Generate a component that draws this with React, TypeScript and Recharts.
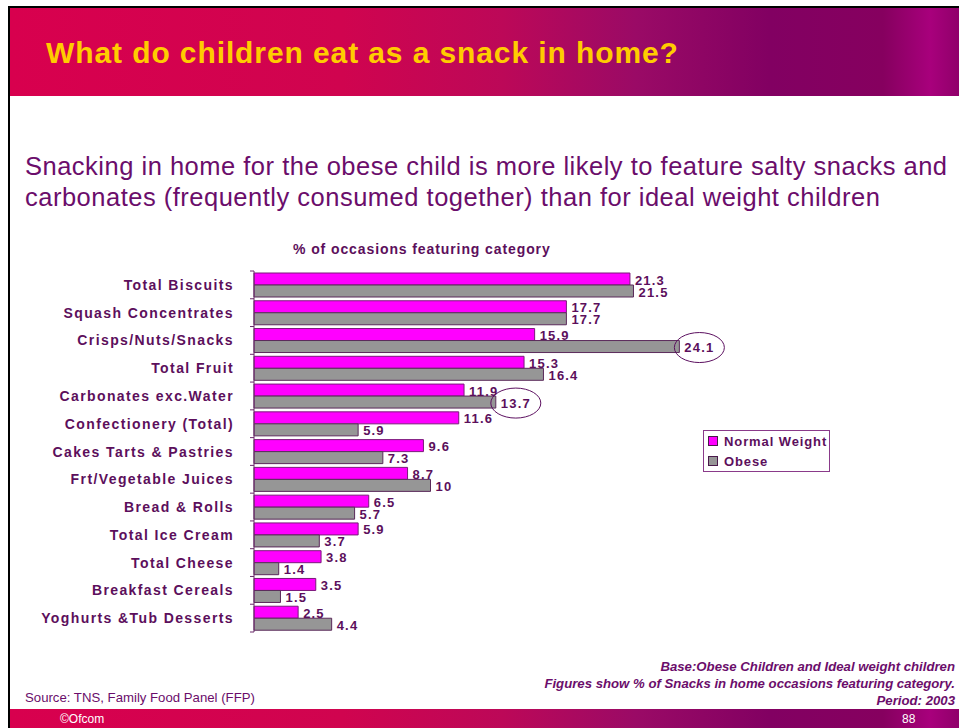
import { Bar, BarChart, LabelList, XAxis, YAxis } from 'recharts'

const categories = [
  'Total Biscuits',
  'Squash Concentrates',
  'Crisps/Nuts/Snacks',
  'Total Fruit',
  'Carbonates exc.Water',
  'Confectionery (Total)',
  'Cakes Tarts & Pastries',
  'Frt/Vegetable Juices',
  'Bread & Rolls',
  'Total Ice Cream',
  'Total Cheese',
  'Breakfast Cereals',
  'Yoghurts &Tub Desserts',
]
const normalWeight = [21.3, 17.7, 15.9, 15.3, 11.9, 11.6, 9.6, 8.7, 6.5, 5.9, 3.8, 3.5, 2.5]
const obese = [21.5, 17.7, 24.1, 16.4, 13.7, 5.9, 7.3, 10, 5.7, 3.7, 1.4, 1.5, 4.4]
// obese values circled on the slide
const circledObese = ['Crisps/Nuts/Snacks', 'Carbonates exc.Water']
const seriesNames = ['Normal Weight', 'Obese']
const seriesColors = ['#ff00ff', '#969696']

const data = categories.map((name, i) => ({
  name,
  normal: normalWeight[i],
  obese: obese[i],
}))

const PURPLE = '#5c0f5c'
const FONT = 'Arial, "Liberation Sans", Helvetica, sans-serif'
const PLOT_TOP = 271
const PLOT_BOTTOM = 632
const BAND = (PLOT_BOTTOM - PLOT_TOP) / categories.length

function CategoryTick(props: any) {
  const { x, y, payload, index } = props
  const half = BAND / 2
  return (
    <g>
      <line x1={x - 4} x2={x} y1={y - half} y2={y - half} stroke="#6b2a6b" />
      {index === categories.length - 1 && (
        <line x1={x - 4} x2={x} y1={y + half} y2={y + half} stroke="#6b2a6b" />
      )}
      <text
        x={x - 20}
        y={y}
        textAnchor="end"
        dominantBaseline="central"
        fill={PURPLE}
        fontFamily={FONT}
        fontWeight="bold"
        fontSize={14}
        letterSpacing={1.4}
      >
        {payload.value}
      </text>
    </g>
  )
}

function valueLabel(circled: string[]) {
  return (props: any) => {
    const { x, y, width, height, value, index } = props
    const tx = x + width + 5
    const ty = y + height / 2 + 1
    return (
      <g>
        <text
          x={tx}
          y={ty}
          dominantBaseline="central"
          fill={PURPLE}
          fontFamily={FONT}
          fontWeight="bold"
          fontSize={13}
          letterSpacing={1.2}
        >
          {value}
        </text>
        {circled.includes(categories[index]) && (
          <ellipse cx={tx + 15} cy={ty} rx={25} ry={15} fill="none" stroke="#5c1060" strokeWidth={1} />
        )}
      </g>
    )
  }
}

function LegendBox() {
  return (
    <div
      style={{
        position: 'absolute',
        left: 703,
        top: 430,
        width: 125,
        height: 40,
        border: '1px solid #8a3a8a',
        background: '#fff',
        fontWeight: 'bold',
        fontSize: 13,
        letterSpacing: 0.9,
        color: PURPLE,
      }}
    >
      {seriesNames.map((label, i) => (
        <div key={label} style={{ display: 'flex', alignItems: 'center', height: 20, paddingLeft: 4 }}>
          <span
            style={{
              display: 'inline-block',
              width: 8,
              height: 8,
              background: seriesColors[i],
              border: '1px solid #4a1a4a',
              marginRight: 6,
            }}
          />
          {label}
        </div>
      ))}
    </div>
  )
}

const band = 'linear-gradient(90deg, #d8004e 0%, #d0044f 35%, #bc0858 52%, #9a0a66 66%, #820062 80%, #86005f 92%, #a8007c 97%, #90006a 100%)'

export default function App() {
  return (
    <div
      style={{
        position: 'absolute',
        left: 0,
        top: 0,
        width: 959,
        height: 728,
        overflow: 'hidden',
        background: '#fff',
        fontFamily: FONT,
      }}
    >
      {/* slide frame */}
      <div style={{ position: 'absolute', left: 8, top: 6, width: 951, height: 2, background: '#000' }} />
      <div style={{ position: 'absolute', left: 8, top: 6, width: 2, height: 722, background: '#000' }} />
      <div style={{ position: 'absolute', left: 10, top: 8, width: 949, height: 88, background: band }} />
      <div
        style={{
          position: 'absolute',
          left: 46,
          top: 38,
          fontSize: 30,
          lineHeight: '30px',
          fontWeight: 'bold',
          color: '#ffcc00',
          letterSpacing: 0.9,
          whiteSpace: 'nowrap',
        }}
      >
        What do children eat as a snack in home?
      </div>
      <div
        style={{
          position: 'absolute',
          left: 25,
          top: 151,
          fontSize: 25.5,
          lineHeight: '31px',
          letterSpacing: 0.5,
          color: '#6b0d6b',
          whiteSpace: 'nowrap',
        }}
      >
        Snacking in home for the obese child is more likely to feature salty snacks and
        <br />
        carbonates (frequently consumed together) than for ideal weight children
      </div>
      <div
        style={{
          position: 'absolute',
          left: 293,
          top: 241,
          fontSize: 14,
          lineHeight: '16px',
          fontWeight: 'bold',
          color: PURPLE,
          letterSpacing: 0.9,
          whiteSpace: 'nowrap',
        }}
      >
        % of occasions featuring category
      </div>

      <div style={{ position: 'absolute', left: 0, top: 0 }}>
        <BarChart
          width={959}
          height={728}
          data={data}
          layout="vertical"
          margin={{ top: PLOT_TOP, bottom: 728 - PLOT_BOTTOM, left: 0, right: 959 - 695.25 }}
          barCategoryGap={2}
          barGap={0}
        >
          <XAxis type="number" domain={[0, 25]} hide />
          <YAxis
            type="category"
            dataKey="name"
            width={254}
            axisLine={{ stroke: '#6b2a6b' }}
            tickLine={false}
            tickSize={0}
            tickMargin={0}
            interval={0}
            tick={<CategoryTick />}
          />
          <Bar dataKey="normal" name={seriesNames[0]} fill={seriesColors[0]} stroke="#7a1a7a" strokeWidth={1} isAnimationActive={false}>
            <LabelList dataKey="normal" content={valueLabel([])} />
          </Bar>
          <Bar dataKey="obese" name={seriesNames[1]} fill={seriesColors[1]} stroke="#5a2a5a" strokeWidth={1} isAnimationActive={false}>
            <LabelList dataKey="obese" content={valueLabel(circledObese)} />
          </Bar>
        </BarChart>
      </div>
      <LegendBox />

      <div
        style={{
          position: 'absolute',
          right: 4,
          top: 658,
          fontSize: 13.2,
          lineHeight: '17px',
          fontWeight: 'bold',
          fontStyle: 'italic',
          color: '#6b0d6b',
          textAlign: 'right',
          whiteSpace: 'nowrap',
        }}
      >
        Base:Obese Children and Ideal weight children
        <br />
        Figures show % of Snacks in home occasions featuring category.
        <br />
        Period: 2003
      </div>
      <div
        style={{
          position: 'absolute',
          left: 25,
          top: 690,
          fontSize: 13.2,
          lineHeight: '15px',
          color: '#6b0d6b',
          whiteSpace: 'nowrap',
        }}
      >
        Source: TNS, Family Food Panel (FFP)
      </div>
      <div style={{ position: 'absolute', left: 10, top: 709, width: 949, height: 19, background: band }} />
      <div style={{ position: 'absolute', left: 60, top: 712, fontSize: 12, lineHeight: '14px', color: '#fff' }}>
        ©Ofcom
      </div>
      <div style={{ position: 'absolute', left: 902, top: 712, fontSize: 12, lineHeight: '14px', color: '#fff' }}>
        88
      </div>
    </div>
  )
}
